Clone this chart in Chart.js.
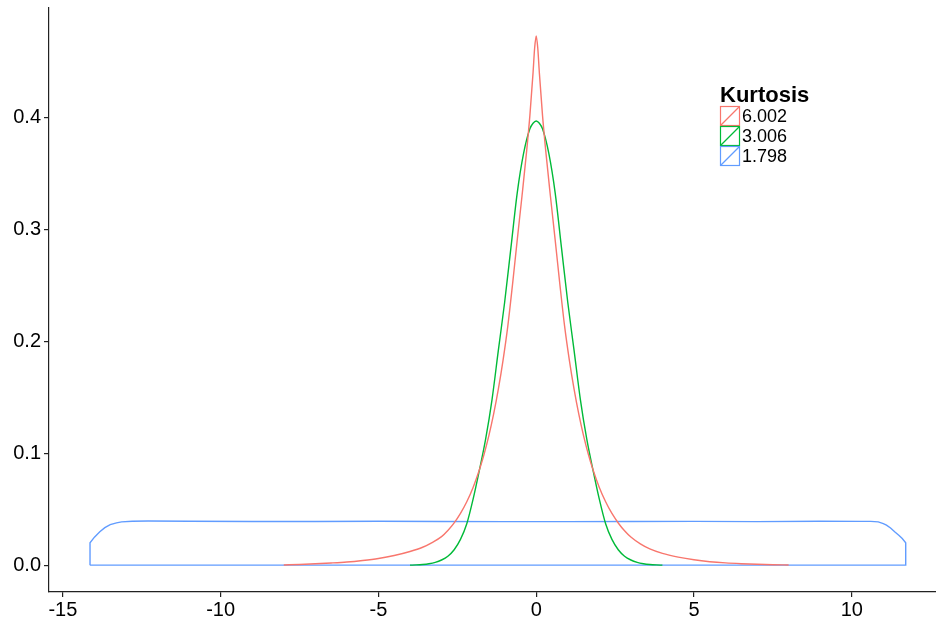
<!DOCTYPE html>
<html>
<head>
<meta charset="utf-8">
<script src="https://cdn.jsdelivr.net/npm/chart.js@4.4.1/dist/chart.umd.min.js"></script>
<style>
  html, body { margin: 0; padding: 0; background: #fff; }
  canvas { display: block; }
</style>
</head>
<body>
<canvas id="chart" width="936" height="618"></canvas>
<script>
// legend title and series names
const legendTitle = "Kurtosis";
const seriesNames = ["6.002", "3.006", "1.798"];
const seriesColors = ["#F8766D", "#00BA38", "#619CFF"];

// tick labels
const xTicks = [-15, -10, -5, 0, 5, 10];
const yTicks = [0.0, 0.1, 0.2, 0.3, 0.4];

// kurtosis 6.002 density
const redX = [-8, -7.5, -7, -6.5, -6, -5.5, -5, -4.5, -4, -3.6, -3.3, -3, -2.8, -2.6, -2.4, -2.2, -2, -1.8, -1.65, -1.5, -1.35, -1.2, -1.05, -0.9, -0.75, -0.6, -0.45, -0.3, -0.2, -0.1, -0.05, 0,
              0.05, 0.1, 0.2, 0.3, 0.45, 0.6, 0.75, 0.9, 1.05, 1.2, 1.35, 1.5, 1.65, 1.8, 2, 2.2, 2.4, 2.6, 2.8, 3, 3.3, 3.6, 4, 4.5, 5, 5.5, 6, 6.5, 7, 7.5, 8];
const redY = [0.0002, 0.0006, 0.0012, 0.0019, 0.0028, 0.0042, 0.006, 0.0086, 0.0122, 0.016, 0.0202, 0.0255, 0.031, 0.0378, 0.0463, 0.0567, 0.0695, 0.0853, 0.0994, 0.1158, 0.1349, 0.1573, 0.1833, 0.2136, 0.251, 0.291, 0.33, 0.371, 0.402, 0.44, 0.462, 0.473,
              0.462, 0.44, 0.402, 0.371, 0.33, 0.291, 0.251, 0.2136, 0.1833, 0.1573, 0.1349, 0.1158, 0.0994, 0.0853, 0.0695, 0.0567, 0.0462, 0.0377, 0.0307, 0.0251, 0.019, 0.0145, 0.0105, 0.0072, 0.0048, 0.0031, 0.002, 0.0013, 0.0008, 0.0004, 0.0001];

// kurtosis 3.006 density
const greenX = [-4, -3.8, -3.6, -3.4, -3.2, -3, -2.8, -2.6, -2.4, -2.2, -2, -1.8, -1.6, -1.4, -1.2, -1, -0.8, -0.6, -0.4, -0.2, -0.1, 0,
                0.1, 0.2, 0.4, 0.6, 0.8, 1, 1.2, 1.4, 1.6, 1.8, 2, 2.2, 2.4, 2.6, 2.8, 3, 3.2, 3.4, 3.6, 3.8, 4];
const greenY = [0, 0.0002, 0.0006, 0.0013, 0.0025, 0.0046, 0.008, 0.0138, 0.023, 0.037, 0.059, 0.085, 0.113, 0.148, 0.192, 0.235, 0.284, 0.333, 0.368, 0.39, 0.395, 0.397,
                0.395, 0.39, 0.368, 0.333, 0.284, 0.235, 0.192, 0.148, 0.113, 0.085, 0.059, 0.037, 0.023, 0.0138, 0.008, 0.0046, 0.0025, 0.0013, 0.0006, 0.0002, 0];

// kurtosis 1.798 density outline (closed along the baseline)
const blueX = [-14.14, -14.14, -14.0, -13.83, -13.67, -13.5, -13.3, -13.14, -12.8, -12.3, -11, -9, -7, -5, -3, -1, 1, 3, 5, 7, 9, 10.3,
               10.6, 10.84, 11.0, 11.1, 11.23, 11.36, 11.5, 11.6, 11.71, 11.71, -14.14];
const blueY = [0, 0.020, 0.025, 0.0298, 0.0335, 0.0362, 0.0378, 0.0387, 0.0392, 0.0394, 0.0392, 0.039, 0.039, 0.0392, 0.039, 0.0389, 0.0389, 0.039, 0.0391, 0.0389, 0.0392, 0.0391,
               0.0391, 0.0387, 0.0372, 0.0358, 0.0332, 0.0298, 0.0265, 0.0238, 0.020, 0, 0];

const toPoints = (xs, ys) => xs.map((x, i) => ({ x, y: ys[i] }));
const seriesData = [toPoints(redX, redY), toPoints(greenX, greenY), toPoints(blueX, blueY)];

const FONT = "'Liberation Sans', Arial, Helvetica, sans-serif";

// draws the ggplot-style legend box
const legendPlugin = {
    id: "kurtLegend",
    afterDraw(chart) {
        const ctx = chart.ctx;
        ctx.save();
        ctx.fillStyle = "#000";
        ctx.font = "bold 22px " + FONT;
        ctx.textBaseline = "alphabetic";
        ctx.fillText(legendTitle, 720, 101.5);

        ctx.font = "18px " + FONT;
        ctx.textBaseline = "middle";
        seriesNames.forEach((name, i) => {
            const x0 = 720.5, y0 = 106.5 + i * 20;
            ctx.strokeStyle = seriesColors[i];
            ctx.lineWidth = 1.2;
            ctx.strokeRect(x0, y0, 19, 19);
            ctx.beginPath();
            ctx.moveTo(x0, y0 + 19);
            ctx.lineTo(x0 + 19, y0);
            ctx.stroke();
            ctx.fillStyle = "#000";
            ctx.fillText(name, 742, y0 + 10.5);
        });
        ctx.restore();
    }
};

const chart = new Chart(document.getElementById("chart").getContext("2d"), {
    type: "scatter",
    data: {
        datasets: seriesNames.map((name, i) => ({
            label: name,
            data: seriesData[i],
            showLine: true,
            borderColor: seriesColors[i],
            borderWidth: 1.4,
            pointRadius: 0,
            cubicInterpolationMode: i < 2 ? "monotone" : "default",
            tension: 0,
            fill: false,
            order: i + 1
        }))
    },
    options: {
        responsive: false,
        animation: false,
        layout: { padding: { top: 8, right: 0, left: 0, bottom: 0 } },
        plugins: {
            legend: { display: false },
            tooltip: { enabled: false }
        },
        scales: {
            x: {
                type: "linear",
                min: -15.44,
                max: 12.67,
                afterBuildTicks: s => { s.ticks = xTicks.map(v => ({ value: v })); },
                afterFit: s => { s.height = 26; s.paddingLeft = 0; s.paddingRight = 0; },
                border: { display: true, color: "#222", width: 1.2 },
                grid: { display: true, drawOnChartArea: false, drawTicks: true, tickLength: 5, color: "#222", lineWidth: 1.2 },
                ticks: {
                    color: "#000",
                    padding: 1,
                    maxRotation: 0,
                    font: { family: FONT, size: 20 },
                    callback: v => String(v)
                }
            },
            y: {
                type: "linear",
                min: -0.024,
                max: 0.498,
                afterBuildTicks: s => { s.ticks = yTicks.map(v => ({ value: v })); },
                afterFit: s => { s.width = 49; s.paddingTop = 0; s.paddingBottom = 0; },
                border: { display: true, color: "#222", width: 1.2 },
                grid: { display: true, drawOnChartArea: false, drawTicks: true, tickLength: 5, color: "#222", lineWidth: 1.2 },
                ticks: {
                    color: "#000",
                    padding: 3,
                    font: { family: FONT, size: 20 },
                    callback: v => Number(v).toFixed(1)
                }
            }
        }
    },
    plugins: [legendPlugin]
});
</script>
</body>
</html>
